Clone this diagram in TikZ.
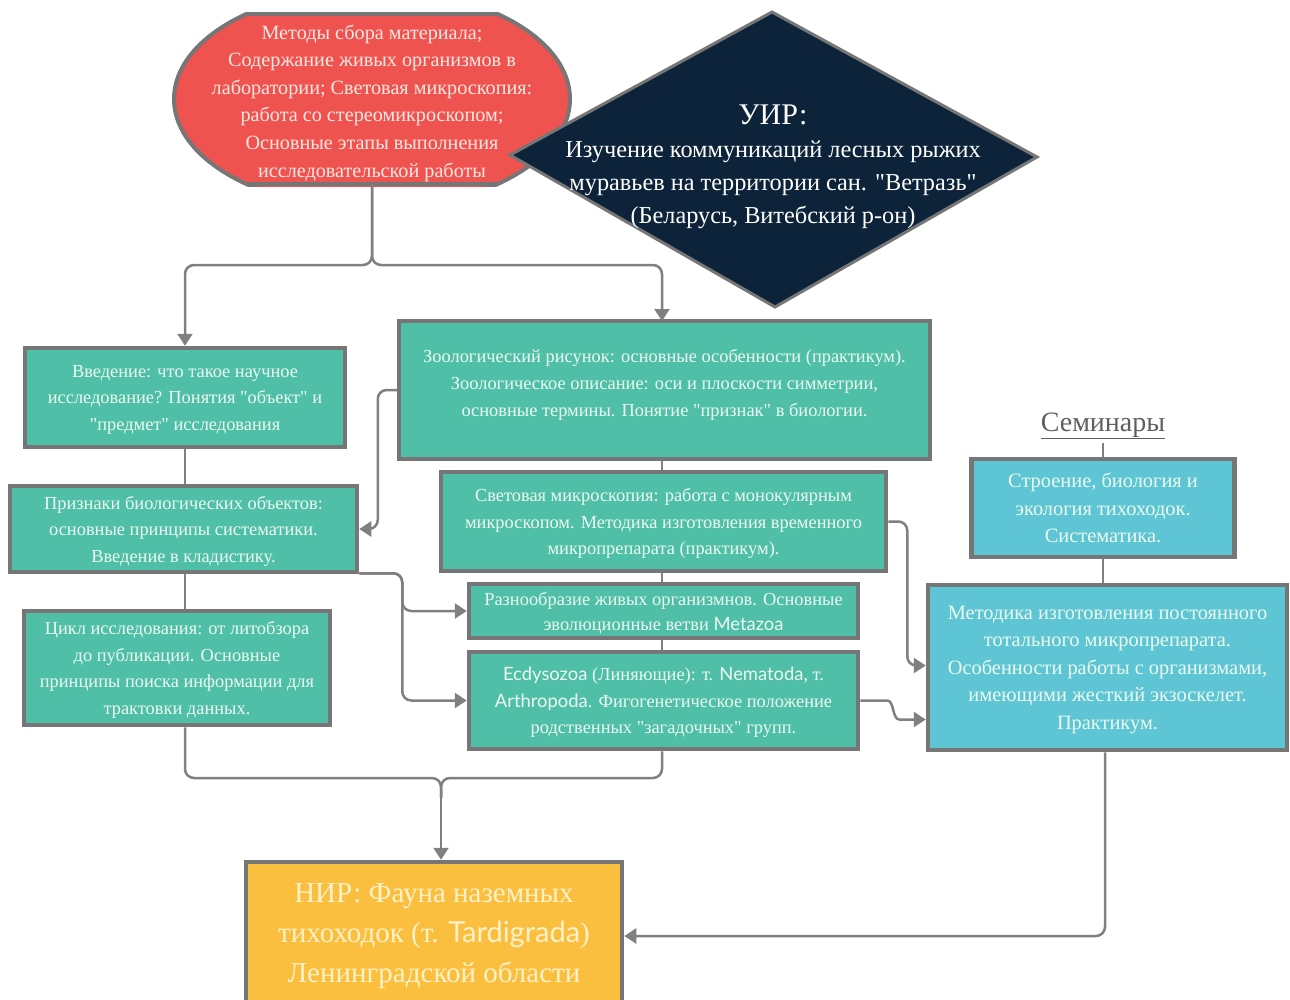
\documentclass[tikz,border=0pt]{standalone}
\usepackage{fontspec}
\setmainfont{Liberation Serif}[Ligatures=TeXOff]
\newfontfamily\lato{Lato}
\usetikzlibrary{arrows.meta,calc}
\definecolor{tealc}{RGB}{79,191,168}
\definecolor{cyanc}{RGB}{94,197,212}
\definecolor{redc}{RGB}{239,83,80}
\definecolor{navyc}{RGB}{12,35,58}
\definecolor{orangec}{RGB}{251,191,63}
\definecolor{bordergray}{RGB}{118,118,118}
\definecolor{conngray}{RGB}{128,128,128}
\definecolor{boxtext}{RGB}{236,250,240}
\definecolor{redtext}{RGB}{255,232,225}
\definecolor{nirtext}{RGB}{255,242,200}
\definecolor{semtext}{RGB}{95,95,95}
\tikzset{
  box/.style={draw=bordergray, line width=4.5pt, fill=tealc, text=boxtext, align=center, inner sep=0pt,
    font=\fontsize{18.4}{26.5}\selectfont, text depth=-4pt},
  cbox/.style={box, fill=cyanc, font=\fontsize{20.4}{27.5}\selectfont, text depth=0pt},
  conn/.style={draw=conngray, line width=2.5pt, rounded corners=9pt},
  arr/.style={-{Triangle[length=12pt,width=15pt]}},
}
\begin{document}
\begin{tikzpicture}[x=1pt,y=-1pt]
\useasboundingbox[fill=white] (0,0) rectangle (1290,999);

% red rounded shape
\begin{scope}
\clip (160,12) rectangle (590,186);
\draw[fill=redc, draw=bordergray, line width=4pt] (372,99) ellipse [x radius=198pt, y radius=110pt];
\end{scope}
\draw[bordergray, line width=4pt] (245,14) -- (499,14) (245,184) -- (499,184);
\node[text=redtext, align=center, font=\fontsize{20.2}{27.6}\selectfont] (red) at (372,103)
  {Методы сбора материала;\\ Содержание живых организмов в\\ лаборатории; Световая микроскопия:\\ работа со стереомикроскопом;\\ Основные этапы выполнения\\ исследовательской работы};
\coordinate (redbot) at (372,184);

% diamond
\draw[fill=navyc, draw=bordergray, line width=3pt] (772,12) -- (1037,157) -- (775,307) -- (510,155) -- cycle;
\node[text=white, align=center, font=\fontsize{24.3}{33}\selectfont] (uir) at (773,167)
  {{\fontsize{30}{34}\selectfont УИР:}\\ Изучение коммуникаций лесных рыжих\\ муравьев на территории сан. "Ветразь"\\ (Беларусь, Витебский р-он)};

% left column
\node[box, minimum width=320pt, minimum height=99pt] (A) at (185,397.5)
  {Введение: что такое научное\\ исследование? Понятия "объект" и\\ "предмет" исследования};
\node[box, minimum width=347pt, minimum height=86pt] (B) at (183.5,529)
  {Признаки биологических объектов:\\ основные принципы систематики.\\ Введение в кладистику.};
\node[box, minimum width=306pt, minimum height=114pt] (C) at (177,668)
  {Цикл исследования: от литобзора\\ до публикации. Основные\\ принципы поиска информации для\\ трактовки данных.};

% middle column
\node[box, minimum width=531pt, minimum height=138pt, font=\fontsize{18.4}{27}\selectfont] (D) at (664.5,390)
  {Зоологический рисунок: основные особенности (практикум).\\ Зоологическое описание: оси и плоскости симметрии,\\ основные термины. Понятие "признак" в биологии.\\[-13pt] \strut};
\node[box, minimum width=445pt, minimum height=99pt] (E) at (663.5,521.5)
  {Световая микроскопия: работа с монокулярным\\ микроскопом. Методика изготовления временного\\ микропрепарата (практикум).};
\node[box, minimum width=389pt, minimum height=54pt, font=\fontsize{18.4}{25}\selectfont] (F) at (663.5,611)
  {Разнообразие живых организмнов. Основные\\ эволюционные ветви {\lato Metazoa}};
\node[box, minimum width=389pt, minimum height=97pt] (G) at (663.5,700.5)
  {{\lato Ecdysozoa} (Линяющие): т. {\lato Nematoda}, т.\\ {\lato Arthropoda}. Фигогенетическое положение\\ родственных "загадочных" групп.};

% right column
\node[text=semtext, font=\fontsize{28}{30}\selectfont] (S) at (1103,426) {\underline{Семинары}};
\node[cbox, minimum width=263pt, minimum height=98pt] (I) at (1103,508)
  {Строение, биология и\\ экология тихоходок.\\ Систематика.};
\node[cbox, minimum width=359pt, minimum height=165pt, text depth=-6pt] (H) at (1107.5,667.5)
  {Методика изготовления постоянного\\ тотального микропрепарата.\\ Особенности работы с организмами,\\ имеющими жесткий экзоскелет.\\ Практикум.};

% bottom
\node[box, fill=orangec, text=nirtext, font=\fontsize{29}{40}\selectfont, text depth=6.4pt, minimum width=376pt, minimum height=148pt] (N) at (434,936)
  {НИР: Фауна наземных\\ тихоходок (т. {\lato Tardigrada})\\ Ленинградской области};

\coordinate (split) at (372,265);
\coordinate (merge) at (441,778);

% connectors
\draw[conn, arr] (redbot) -- (split) -- (A.north |- split) -- (A.north);
\draw[conn, arr] (redbot) -- (split) -- (662,265) -- (662,321);
\draw[conn] (A.south) -- (A.south |- B.north);
\draw[conn] (A.south |- B.south) -- (A.south |- C.north);
\draw[conn] (D.south -| 662,0) -- (E.north -| 662,0);
\draw[conn] (E.south -| 662,0) -- (F.north -| 662,0);
\draw[conn] (F.south -| 662,0) -- (G.north -| 662,0);
\draw[conn, line width=1.5pt] (S.south) -- (I.north);
\draw[conn] (I.south) -- (I.south |- H.north);

\draw[conn, arr] (D.west) -- ++(-19,0) |- (B.east);
\draw[conn, arr] ($(B.south east)+(0,-1)$) -- ++(43,0) |- (F.west);
\draw[conn, arr] ($(B.south east)+(0,-1)$) -- ++(43,0) |- (G.west);
\draw[conn, arr] (E.east) -- ++(19,0) |- ($(H.west)+(0,-2)$);
\draw[conn, arr] (G.east) -- ++(18,0) .. controls +(16,0) and +(-16,0) .. ++(30,19) -- ($(H.west)+(0,52)$);

\draw[conn] (A.south |- C.south) -- (A.south |- merge) -- (merge) -- ++(0,20);
\draw[conn] (G.south -| 662,0) -- (662,778) -- (merge) -- ++(0,20);
\draw[conn, arr] ($(merge)+(0,10)$) -- (merge |- N.north);
\draw[conn, arr] (H.south -| 1105,0) |- (N.east);
\end{tikzpicture}
\end{document}
